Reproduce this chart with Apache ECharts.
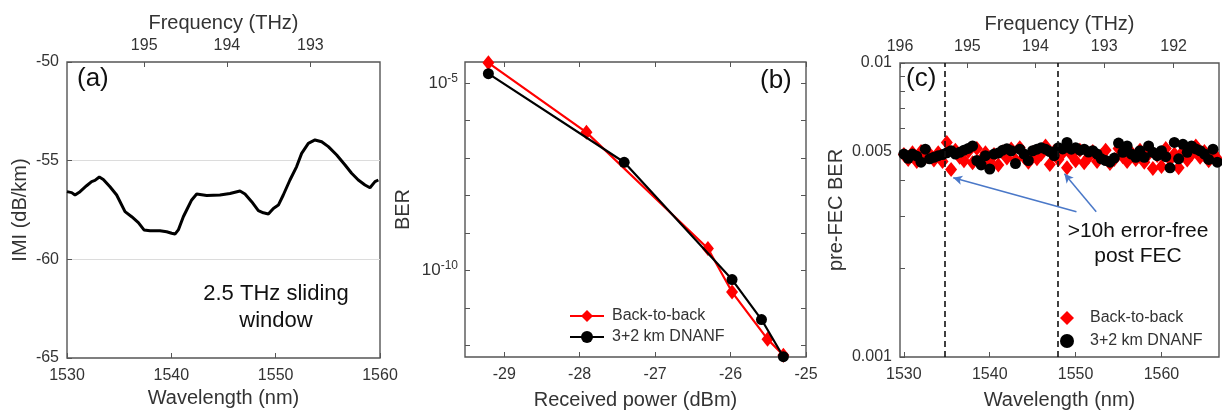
<!DOCTYPE html>
<html><head><meta charset="utf-8">
<script src="https://cdn.jsdelivr.net/npm/echarts@6/dist/echarts.min.js"></script>
<style>html,body{margin:0;padding:0;background:#fff}#c{width:1222px;height:415px}</style>
</head><body><div id="c"></div>
<script>
// ---------- DATA ----------
const imiWavelength = [1530.00,1530.45,1530.77,1531.25,1531.88,1532.36,1532.68,1533.10,1533.48,1534.12,1534.76,1535.56,1536.20,1536.84,1537.38,1537.96,1538.91,1539.55,1540.03,1540.35,1540.67,1541.15,1541.47,1541.95,1542.43,1543.39,1544.66,1545.62,1546.58,1547.06,1547.70,1548.34,1548.82,1549.30,1549.78,1550.26,1550.73,1551.37,1552.01,1552.49,1553.13,1553.77,1554.41,1555.05,1555.85,1556.65,1557.28,1557.92,1558.56,1559.04,1559.52,1559.84];
const imiValue = [-56.57,-56.62,-56.74,-56.57,-56.27,-56.06,-56.00,-55.83,-55.95,-56.32,-56.74,-57.58,-57.84,-58.14,-58.51,-58.55,-58.55,-58.60,-58.68,-58.72,-58.51,-57.84,-57.50,-56.99,-56.69,-56.76,-56.74,-56.66,-56.54,-56.69,-57.08,-57.53,-57.64,-57.70,-57.42,-57.25,-56.74,-55.98,-55.30,-54.63,-54.12,-53.95,-54.04,-54.29,-54.71,-55.22,-55.64,-55.98,-56.23,-56.37,-56.06,-55.98];

const freqTicksA = [195, 194, 193];
const freqTicksC = [196, 195, 194, 193, 192];

const b2bPower = [-29.21, -27.91, -26.30, -25.98, -25.51, -25.30];
const b2bBER   = [3.5e-5, 4.9e-7, 3.9e-10, 2.7e-11, 1.5e-12, 5.6e-13];
const fiberPower = [-29.21, -27.41, -25.98, -25.59, -25.30];
const fiberBER   = [1.8e-5, 7.8e-8, 5.8e-11, 5.0e-12, 5.1e-13];

const scanWavelength = [1530.0,1530.5,1531.0,1531.5,1532.0,1532.5,1533.0,1533.5,1534.0,1534.5,1535.0,1535.5,1536.0,1536.5,1537.0,1537.5,1538.0,1538.5,1539.0,1539.5,1540.0,1540.5,1541.0,1541.5,1542.0,1542.5,1543.0,1543.5,1544.0,1544.5,1545.0,1545.5,1546.0,1546.5,1547.0,1547.5,1548.0,1548.5,1549.0,1549.5,1550.0,1550.5,1551.0,1551.5,1552.0,1552.5,1553.0,1553.5,1554.0,1554.5,1555.0,1555.5,1556.0,1556.5,1557.0,1557.5,1558.0,1558.5,1559.0,1559.5,1560.0,1560.5,1561.0,1561.5,1562.0,1562.5,1563.0,1563.5,1564.0,1564.5,1565.0,1565.5,1566.0,1566.5];
const b2bPreFEC = [0.00488,0.00470,0.00495,0.00462,0.00500,0.00478,0.00490,0.00468,0.00495,0.00462,0.00537,0.00434,0.00505,0.00478,0.00465,0.00500,0.00458,0.00512,0.00470,0.00495,0.00462,0.00488,0.00450,0.00498,0.00475,0.00510,0.00468,0.00515,0.00478,0.00460,0.00495,0.00472,0.00490,0.00522,0.00452,0.00500,0.00470,0.00495,0.00440,0.00488,0.00465,0.00505,0.00458,0.00478,0.00500,0.00462,0.00485,0.00505,0.00455,0.00470,0.00512,0.00480,0.00462,0.00495,0.00470,0.00505,0.00460,0.00490,0.00438,0.00485,0.00445,0.00512,0.00470,0.00490,0.00440,0.00500,0.00468,0.00488,0.00522,0.00478,0.00500,0.00465,0.00495,0.00472];
const fiberPreFEC = [0.00490,0.00474,0.00490,0.00482,0.00460,0.00509,0.00472,0.00478,0.00484,0.00488,0.00495,0.00503,0.00490,0.00497,0.00505,0.00512,0.00522,0.00466,0.00450,0.00484,0.00436,0.00490,0.00494,0.00505,0.00511,0.00503,0.00455,0.00509,0.00490,0.00466,0.00503,0.00509,0.00515,0.00509,0.00500,0.00484,0.00515,0.00510,0.00537,0.00509,0.00515,0.00505,0.00509,0.00498,0.00503,0.00490,0.00472,0.00466,0.00460,0.00475,0.00534,0.00497,0.00522,0.00490,0.00478,0.00503,0.00478,0.00522,0.00497,0.00484,0.00503,0.00480,0.00440,0.00537,0.00472,0.00529,0.00497,0.00522,0.00510,0.00503,0.00490,0.00470,0.00509,0.00460];

const dashedWavelengths = [1534.8, 1547.9];
const arrowStart = [[1550.1, 0.00312], [1552.4, 0.00312]];
const arrowEnd   = [[1535.75, 0.00407], [1548.7, 0.00420]];

const berTicksB = [-12, -11, -10, -9, -8, -7, -6, -5];
const berLabelsB = [-10, -5];
const berTicksC = [0.001, 0.002, 0.003, 0.004, 0.005, 0.006, 0.007, 0.008, 0.009, 0.01];
const berLabelsC = [0.001, 0.005, 0.01];

// ---------- OPTION ----------
const C_LIGHT = 299792.458;
const FONT = 'Liberation Sans';
const AX = '#555';
const TXT = '#333';
const lg = Math.log10;

const tick = (vals) => ({show: true, inside: true, length: 5, lineStyle: {color: AX, width: 1}, customValues: vals});
const noLine = {show: false};
const plain = v => String(v);
const lbl = (extra) => Object.assign({color: TXT, fontFamily: FONT, fontSize: 16, margin: 10, formatter: plain}, extra);
const nameStyle = {color: TXT, fontFamily: FONT, fontSize: 20};

const freqA = freqTicksA.map(f => C_LIGHT / f);
const freqC = freqTicksC.map(f => C_LIGHT / f);
const freqFmt = v => String(Math.round(C_LIGHT / v));

const xAxis = [
  {gridIndex: 0, type: 'value', min: 1530, max: 1560, interval: 10, axisLine: noLine,
   axisTick: {show: true, inside: true, length: 5, lineStyle: {color: AX}},
   axisLabel: lbl({}), splitLine: {show: false},
   name: 'Wavelength (nm)', nameLocation: 'middle', nameGap: 29, nameTextStyle: nameStyle},
  {gridIndex: 0, type: 'value', position: 'top', min: 1530, max: 1560, axisLine: noLine,
   axisTick: tick(freqA), axisLabel: lbl({customValues: freqA, formatter: freqFmt, margin: 8}),
   splitLine: {show: false},
   name: 'Frequency (THz)', nameLocation: 'middle', nameGap: 29, nameTextStyle: nameStyle},
  {gridIndex: 1, type: 'value', min: -29.52, max: -25, axisLine: noLine,
   axisTick: tick([-29, -28, -27, -26, -25]), axisLabel: lbl({customValues: [-29, -28, -27, -26, -25]}),
   splitLine: {show: false},
   name: 'Received power (dBm)', nameLocation: 'middle', nameGap: 33, nameTextStyle: nameStyle},
  {gridIndex: 1, type: 'value', position: 'top', min: -29.52, max: -25, axisLine: noLine,
   axisTick: tick([-29, -28, -27, -26, -25]), axisLabel: {show: false}, splitLine: {show: false}},
  {gridIndex: 2, type: 'value', min: 1529.55, max: 1566.7, axisLine: noLine,
   axisTick: tick([1530, 1540, 1550, 1560]), axisLabel: lbl({customValues: [1530, 1540, 1550, 1560]}),
   splitLine: {show: false},
   name: 'Wavelength (nm)', nameLocation: 'middle', nameGap: 33, nameTextStyle: nameStyle},
  {gridIndex: 2, type: 'value', position: 'top', min: 1529.55, max: 1566.7, axisLine: noLine,
   axisTick: tick(freqC), axisLabel: lbl({customValues: freqC, formatter: freqFmt, margin: 8}),
   splitLine: {show: false},
   name: 'Frequency (THz)', nameLocation: 'middle', nameGap: 29, nameTextStyle: nameStyle}
];

const yAxis = [
  {gridIndex: 0, type: 'value', min: -65, max: -50, interval: 5, axisLine: noLine,
   axisTick: {show: true, inside: true, length: 5, lineStyle: {color: AX}},
   axisLabel: lbl({margin: 8}),
   splitLine: {show: true, showMinLine: false, showMaxLine: false, lineStyle: {color: '#dcdcdc', width: 1}},
   name: 'IMI (dB/km)', nameLocation: 'middle', nameGap: 37, nameTextStyle: nameStyle},
  {gridIndex: 1, type: 'value', min: -12.30, max: -4.434, axisLine: noLine,
   axisTick: tick(berTicksB),
   axisLabel: lbl({customValues: berLabelsB, margin: 7, formatter: v => '{b|10}{s|' + Math.round(v) + '}',
     rich: {b: {fontFamily: FONT, fontSize: 17, color: TXT}, s: {fontFamily: FONT, fontSize: 12, color: TXT, padding: [0, 0, 10, 0]}}}),
   splitLine: {show: false},
   name: 'BER', nameLocation: 'middle', nameGap: 52, nameTextStyle: nameStyle},
  {gridIndex: 1, type: 'value', position: 'right', min: -12.30, max: -4.434, axisLine: noLine,
   axisTick: tick(berTicksB), axisLabel: {show: false}, splitLine: {show: false}},
  {gridIndex: 2, type: 'value', min: -3, max: -2, axisLine: noLine,
   axisTick: tick(berTicksC.map(lg)),
   axisLabel: lbl({customValues: berLabelsC.map(lg), margin: 8, formatter: v => Math.pow(10, v).toPrecision(1)}),
   splitLine: {show: false},
   name: 'pre-FEC BER', nameLocation: 'middle', nameGap: 54, nameTextStyle: nameStyle}
];

const zip = (a, b, f) => a.map((v, i) => [v, f ? f(b[i]) : b[i]]);

const series = [
  {type: 'line', name: 'Back-to-back', xAxisIndex: 2, yAxisIndex: 1, data: zip(b2bPower, b2bBER, lg),
   symbol: 'diamond', symbolSize: [12, 15], color: '#ff0000', lineStyle: {width: 2.2, color: '#ff0000'}, itemStyle: {color: '#ff0000', opacity: 1}, z: 3},
  {type: 'line', name: '3+2 km DNANF', xAxisIndex: 2, yAxisIndex: 1, data: zip(fiberPower, fiberBER, lg),
   symbol: 'circle', symbolSize: 11, color: '#000', lineStyle: {width: 2.2, color: '#000'}, itemStyle: {color: '#000', opacity: 1}, z: 4},
  {type: 'line', name: 'IMI', xAxisIndex: 0, yAxisIndex: 0, data: zip(imiWavelength, imiValue),
   showSymbol: false, lineStyle: {width: 3, color: '#000'}, color: '#000'},
  {type: 'scatter', name: 'Back-to-back', xAxisIndex: 4, yAxisIndex: 3, data: zip(scanWavelength, b2bPreFEC, lg),
   symbol: 'diamond', symbolSize: [12, 15], itemStyle: {color: '#ff0000', opacity: 1}, z: 3,
   markLine: {silent: true, symbol: 'none', label: {show: false}, animation: false,
     lineStyle: {color: '#111', type: [6, 4], width: 1.6},
     data: dashedWavelengths.map(w => ({xAxis: w}))}},
  {type: 'scatter', name: '3+2 km DNANF', xAxisIndex: 4, yAxisIndex: 3, data: zip(scanWavelength, fiberPreFEC, lg),
   symbol: 'circle', symbolSize: 11, itemStyle: {color: '#000', opacity: 1}, z: 4,
   markLine: {silent: true, symbol: ['none', 'arrow'], symbolSize: [7, 9], label: {show: false}, animation: false,
     lineStyle: {color: '#4a78c8', type: 'solid', width: 1.5},
     data: arrowStart.map((s, i) => [{coord: [s[0], lg(s[1])]}, {coord: [arrowEnd[i][0], lg(arrowEnd[i][1])]}])}}
];

const legendText = {color: TXT, fontFamily: FONT, fontSize: 16};
const option = {
  animation: false,
  backgroundColor: '#fff',
  grid: [
    {left: 67, top: 62, width: 313, height: 296, show: true, borderColor: AX, borderWidth: 1.4, backgroundColor: 'transparent'},
    {left: 465, top: 62, width: 341, height: 296, show: true, borderColor: AX, borderWidth: 1.4, backgroundColor: 'transparent'},
    {left: 900, top: 63, width: 319, height: 297, show: true, borderColor: AX, borderWidth: 1.4, backgroundColor: 'transparent'}
  ],
  xAxis, yAxis, series,
  legend: [
    {left: 569, top: 308, padding: 0, orient: 'vertical', itemWidth: 34, itemHeight: 15, itemGap: 5,
     textStyle: Object.assign({padding: [0, 0, 0, 3]}, legendText), selectedMode: false, data: ['Back-to-back', '3+2 km DNANF']},
    {left: 1060, top: 310, padding: 0, orient: 'vertical', itemWidth: 14, itemHeight: 14, itemGap: 7,
     textStyle: Object.assign({padding: [0, 0, 0, 11]}, legendText), selectedMode: false,
     data: [{name: 'Back-to-back', icon: 'diamond'}, {name: '3+2 km DNANF', icon: 'circle'}]}
  ],
  graphic: [
    {type: 'text', left: 77, top: 66, style: {text: '(a)', font: '26px "Liberation Sans"', fill: '#111'}},
    {type: 'text', left: 760, top: 68, style: {text: '(b)', font: '26px "Liberation Sans"', fill: '#111'}},
    {type: 'text', left: 906, top: 66, style: {text: '(c)', font: '26px "Liberation Sans"', fill: '#111'}},
    {type: 'text', x: 276, y: 307, style: {text: '2.5 THz sliding\nwindow', font: '22px "Liberation Sans"', fill: '#111', align: 'center', verticalAlign: 'middle', lineHeight: 27}},
    {type: 'text', x: 1138, y: 244, style: {text: '>10h error-free\npost FEC', font: '21px "Liberation Sans"', fill: '#111', align: 'center', verticalAlign: 'middle', lineHeight: 25}}
  ]
};

const chart = echarts.init(document.getElementById('c'), null, {renderer: 'canvas'});
chart.setOption(option);
</script>
</body></html>
